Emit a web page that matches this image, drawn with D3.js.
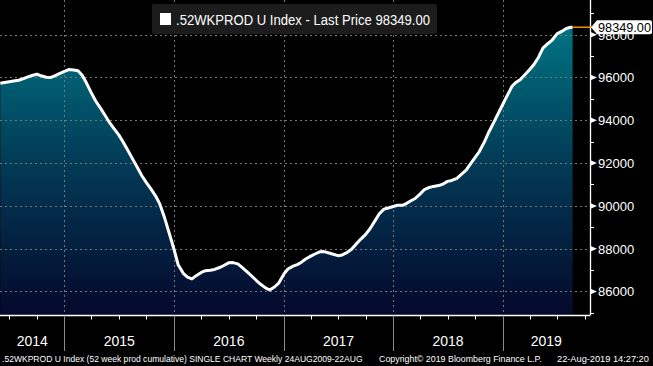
<!DOCTYPE html>
<html><head><meta charset="utf-8">
<script src="https://cdn.jsdelivr.net/npm/d3@7/dist/d3.min.js"></script>
<style>
html,body{margin:0;padding:0;background:#000;}
svg{display:block;font-family:"Liberation Sans",Arial,sans-serif;}
</style></head>
<body>
<svg id="c" width="653" height="366"></svg>
<script>
// ---- data ----
const dates = [
"2014-06-01","2014-06-15","2014-07-01","2014-07-15","2014-08-01","2014-08-15","2014-09-01","2014-09-15",
"2014-10-01","2014-10-15","2014-11-01","2014-11-15","2014-12-01","2014-12-15",
"2015-01-01","2015-01-15","2015-02-01","2015-02-15","2015-03-01","2015-03-15","2015-04-01","2015-04-15",
"2015-05-01","2015-05-15","2015-06-01","2015-06-15","2015-07-01","2015-07-15","2015-08-01","2015-08-15",
"2015-09-01","2015-09-15","2015-10-01","2015-10-15","2015-11-01","2015-11-15","2015-12-01","2015-12-15",
"2016-01-01","2016-01-15","2016-02-01","2016-02-15","2016-03-01","2016-03-15","2016-04-01","2016-04-15",
"2016-05-01","2016-05-15","2016-06-01","2016-06-15","2016-07-01","2016-07-15","2016-08-01","2016-08-15",
"2016-09-01","2016-09-15","2016-10-01","2016-10-15","2016-11-01","2016-11-15","2016-12-01","2016-12-15",
"2017-01-01","2017-01-15","2017-02-01","2017-02-15","2017-03-01","2017-03-15","2017-04-01","2017-04-15",
"2017-05-01","2017-05-15","2017-06-01","2017-06-15","2017-07-01","2017-07-15","2017-08-01","2017-08-15",
"2017-09-01","2017-09-15","2017-10-01","2017-10-15","2017-11-01","2017-11-15","2017-12-01","2017-12-15",
"2018-01-01","2018-01-15","2018-02-01","2018-02-15","2018-03-01","2018-03-15","2018-04-01","2018-04-15",
"2018-05-01","2018-05-15","2018-06-01","2018-06-15","2018-07-01","2018-07-15","2018-08-01","2018-08-15",
"2018-09-01","2018-09-15","2018-10-01","2018-10-15","2018-11-01","2018-11-15","2018-12-01","2018-12-15",
"2019-01-01","2019-01-15","2019-02-01","2019-02-15","2019-03-01","2019-03-15","2019-04-01","2019-04-15",
"2019-05-01","2019-05-15","2019-06-01","2019-06-15","2019-07-01","2019-07-15","2019-08-01","2019-08-15",
"2019-08-22"];
const values = [
95731,95763,95799,95832,95872,95935,96030,96094,
96160,96080,96010,95995,96090,96180,
96290,96370,96350,96320,96100,95750,95270,94900,
94565,94260,93875,93610,93320,93000,92580,92220,
91790,91430,91090,90815,90460,90080,89430,88780,
87975,87250,86850,86670,86590,86740,86890,86975,
86995,87030,87120,87215,87340,87350,87290,87130,
86915,86735,86525,86350,86170,86070,86210,86390,
86810,87050,87185,87255,87370,87520,87650,87752,
87855,87865,87800,87740,87675,87710,87830,87970,
88240,88450,88670,88920,89300,89620,89850,89900,
89970,90028,90028,90120,90240,90345,90560,90765,
90860,90910,90950,91010,91145,91190,91285,91460,
91675,91955,92270,92540,92990,93430,93870,94265,
94740,95130,95590,95780,95910,96120,96370,96610,
96960,97370,97590,97750,98040,98140,98290,98348,
98349];
const yTicks = [86000,88000,90000,92000,94000,96000,98000];
const yMinorTicks = [85000,86000,87000,88000,89000,90000,91000,92000,93000,94000,95000,96000,97000,98000,99000];
const yearLabels = ["2014","2015","2016","2017","2018","2019"];
const yearStarts = ["2015-01-01","2016-01-01","2017-01-01","2018-01-01","2019-01-01"];
const lastPrice = 98349.00;
const legendText = ".52WKPROD U Index - Last Price 98349.00";
const footer1 = ".52WKPROD U Index (52 week prod cumulative) SINGLE CHART  Weekly 24AUG2009-22AUG";
const footer2 = "Copyright\u00A9 2019 Bloomberg Finance L.P.";
const footer3 = "22-Aug-2019 14:27:20";

// ---- layout ----
const parse = d3.timeParse("%Y-%m-%d");
const data = dates.map((d,i)=>({date:parse(d), value:values[i]}));
const plotRight = 590, plotBottom = 315.5;
const x = d3.scaleTime().domain([parse("2014-05-31"), parse("2019-10-19")]).range([0, plotRight]);
const y = d3.scaleLinear().domain([84855, 99621]).range([316, 0]);

const svg = d3.select("#c");
svg.append("rect").attr("width",653).attr("height",366).attr("fill","#000");

const defs = svg.append("defs");
const grad = defs.append("linearGradient").attr("id","g").attr("gradientUnits","userSpaceOnUse")
  .attr("x1",0).attr("x2",0).attr("y1",26).attr("y2",316);
grad.append("stop").attr("offset",0).attr("stop-color","#007483");
grad.append("stop").attr("offset",0.45).attr("stop-color","#023d58");
grad.append("stop").attr("offset",1).attr("stop-color","#05082c");

// area
const area = d3.area().x(d=>x(d.date)).y0(plotBottom).y1(d=>y(d.value));
svg.append("path").datum(data).attr("d",area).attr("fill","url(#g)");

// gridlines
const gridColor = "#767676";
svg.append("g").selectAll("line").data(yTicks).join("line")
  .attr("x1",0).attr("x2",plotRight).attr("y1",d=>Math.round(y(d))+0.5).attr("y2",d=>Math.round(y(d))+0.5)
  .attr("stroke",gridColor).attr("stroke-width",1).attr("stroke-dasharray","2,3");
svg.append("g").selectAll("line").data(yearStarts).join("line")
  .attr("x1",d=>Math.round(x(parse(d)))+0.5).attr("x2",d=>Math.round(x(parse(d)))+0.5)
  .attr("y1",0).attr("y2",plotBottom)
  .attr("stroke",gridColor).attr("stroke-width",1).attr("stroke-dasharray","2,3");

// line
const line = d3.line().x(d=>x(d.date)).y(d=>y(d.value));
svg.append("path").datum(data).attr("d",line).attr("fill","none")
  .attr("stroke","#fff").attr("stroke-width",3).attr("stroke-linejoin","round");

// x axis
svg.append("line").attr("x1",0).attr("x2",plotRight).attr("y1",plotBottom).attr("y2",plotBottom)
  .attr("stroke","#fff").attr("stroke-width",1.3);
const quarters = d3.timeMonth.every(3).range(parse("2014-06-01"), parse("2019-10-19"));
svg.append("g").selectAll("line").data(quarters).join("line")
  .attr("x1",d=>Math.round(x(d))+0.5).attr("x2",d=>Math.round(x(d))+0.5)
  .attr("y1",plotBottom).attr("y2",plotBottom+4).attr("stroke","#fff").attr("stroke-width",1);
svg.append("g").selectAll("line").data(yearStarts).join("line")
  .attr("x1",d=>Math.round(x(parse(d)))+0.5).attr("x2",d=>Math.round(x(parse(d)))+0.5)
  .attr("y1",plotBottom).attr("y2",351).attr("stroke","#8a8a8a").attr("stroke-width",1);
const bounds = [x.range()[0], ...yearStarts.map(d=>x(parse(d))), plotRight];
svg.append("g").selectAll("text").data(yearLabels).join("text")
  .attr("x",(d,i)=>(bounds[i]+bounds[i+1])/2).attr("y",346)
  .attr("text-anchor","middle").attr("fill","#fff").attr("font-size","14px")
  .text(d=>d);

// y axis
svg.append("line").attr("x1",plotRight+0.5).attr("x2",plotRight+0.5).attr("y1",0).attr("y2",plotBottom)
  .attr("stroke","#fff").attr("stroke-width",1.3);
svg.append("g").selectAll("line").data(yMinorTicks.filter(v=>yTicks.indexOf(v)<0)).join("line")
  .attr("x1",plotRight).attr("x2",plotRight+4).attr("y1",d=>Math.round(y(d))+0.5).attr("y2",d=>Math.round(y(d))+0.5)
  .attr("stroke","#fff").attr("stroke-width",1);
svg.append("g").selectAll("path").data(yTicks).join("path")
  .attr("d",d=>{const yy=y(d);return `M${plotRight},${yy-3}L${plotRight+7},${yy}L${plotRight},${yy+3}Z`;})
  .attr("fill","#fff");
svg.append("g").selectAll("text").data(yTicks).join("text")
  .attr("x",598).attr("y",d=>y(d)+5).attr("fill","#fff").attr("font-size","13px")
  .text(d=>d3.format("d")(d));

// last price marker
const lastPt = data[data.length-1];
const ly = y(lastPrice);
svg.append("line").attr("x1",x(lastPt.date)).attr("x2",594).attr("y1",ly).attr("y2",ly)
  .attr("stroke","#ff8c00").attr("stroke-width",1.5);
svg.append("path")
  .attr("d",`M591,${ly} L597,${ly-7} L650,${ly-7} Q652,${ly-7} 652,${ly-5} L652,${ly+5} Q652,${ly+7} 650,${ly+7} L597,${ly+7} Z`)
  .attr("fill","#fff");
svg.append("text").attr("x",598).attr("y",ly+5).attr("fill","#000").attr("font-size","13px")
  .attr("textLength",53).attr("lengthAdjust","spacingAndGlyphs")
  .text(d3.format(".2f")(lastPrice));

// legend
svg.append("rect").attr("x",152).attr("y",4).attr("width",285).attr("height",30).attr("rx",2)
  .attr("fill","#1c1c1c");
svg.append("rect").attr("x",160).attr("y",13).attr("width",11).attr("height",12).attr("fill","#fff");
svg.append("text").attr("x",176).attr("y",24.5).attr("fill","#fff").attr("font-size","14px")
  .attr("textLength",254).attr("lengthAdjust","spacingAndGlyphs").text(legendText);

// footer: each piece scaled horizontally to fit its span
const footerParts = [[footer1,2,361],[footer2,379,163],[footer3,557,92]];
footerParts.forEach(([t,fx,w])=>{
  const g = svg.append("g");
  const tx = g.append("text").attr("fill","#fff").attr("font-size","9.5px").attr("x",0).attr("y",0).text(t);
  const nat = tx.node().getComputedTextLength();
  g.attr("transform",`translate(${fx},362) scale(${w/nat},1)`);
});
</script>
</body></html>
